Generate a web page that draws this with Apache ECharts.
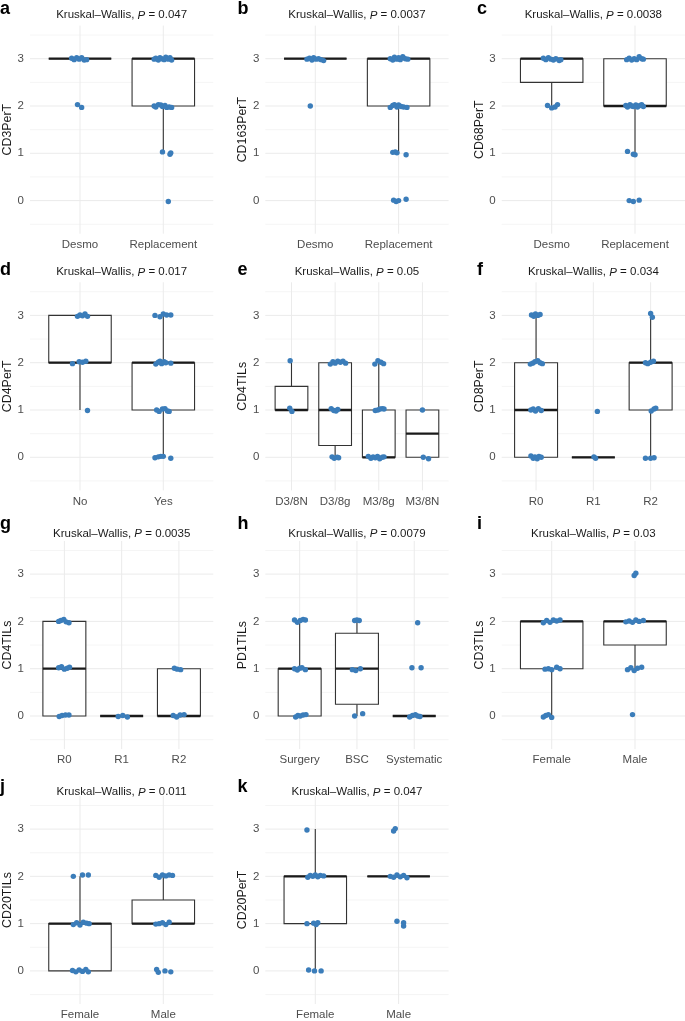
<!DOCTYPE html>
<html>
<head>
<meta charset="utf-8">
<script src="https://cdn.jsdelivr.net/npm/echarts@6/dist/echarts.min.js"></script>
<style>html,body{margin:0;padding:0;background:#fff}#c{width:685px;height:1021px}</style>
</head>
<body>
<div id="c"></div>
<script>
// ---------- data ----------
const yTicks = [0, 1, 2, 3];
const yMinor = [-0.5, 0.5, 1.5, 2.5, 3.5];

const catsA = ['Desmo', 'Replacement'];
const boxA = [[3, 3, 3, 3, 3], [1, 2, 3, 3, 3]];
const ptsA = [[0.90,3.01],[0.93,2.98],[0.96,3.02],[0.99,2.99],[1.02,3.02],[1.05,2.97],[1.08,2.98],[0.97,2.03],[1.02,1.97],
  [1.89,2.99],[1.91,3.01],[1.94,2.97],[1.96,3.02],[1.98,3.0],[2.01,2.98],[2.03,3.03],[2.06,2.99],[2.08,3.02],[2.10,2.97],
  [1.89,2.0],[1.91,1.98],[1.94,2.03],[1.97,2.02],[1.99,1.99],[2.02,2.01],[2.04,1.97],[2.07,1.98],[2.10,1.97],
  [1.99,1.03],[2.08,0.98],[2.09,1.01],[2.06,-0.02]];

const catsB = ['Desmo', 'Replacement'];
const boxB = [[3, 3, 3, 3, 3], [1, 2, 3, 3, 3]];
const ptsB = [[0.90,2.99],[0.93,3.01],[0.96,2.97],[0.98,3.02],[1.01,2.99],[1.04,3.0],[1.07,2.98],[1.10,2.96],[0.94,2.0],
  [1.90,3.0],[1.93,2.97],[1.95,3.03],[1.98,2.99],[2.0,3.02],[2.02,2.98],[2.05,3.04],[2.08,3.0],[2.11,2.99],
  [1.90,1.97],[1.93,2.01],[1.95,2.03],[1.98,1.98],[2.0,2.02],[2.03,1.99],[2.06,1.98],[2.10,1.97],
  [1.93,1.02],[1.96,1.03],[1.98,1.01],[2.09,0.97],[1.94,0.01],[1.97,-0.02],[2.0,0.0],[2.09,0.03]];

const catsC = ['Desmo', 'Replacement'];
const boxC = [[2, 2.5, 3, 3, 3], [1, 2, 2, 3, 3]];
const ptsC = [[0.90,3.01],[0.93,2.98],[0.96,3.02],[0.99,2.99],[1.02,2.97],[1.05,3.0],[1.09,2.96],[1.11,2.98],
  [0.95,2.01],[1.0,1.96],[1.04,1.98],[1.07,2.03],
  [1.90,2.98],[1.93,3.01],[1.96,2.97],[1.99,3.0],[2.02,2.98],[2.05,3.04],[2.08,3.0],[2.10,2.99],
  [1.89,2.01],[1.91,1.98],[1.94,2.03],[1.96,2.0],[1.98,1.99],[2.01,2.02],[2.03,1.98],[2.06,2.01],[2.08,2.03],[2.10,1.99],
  [1.91,1.04],[1.98,0.98],[2.0,0.97],[1.93,0.0],[1.98,-0.02],[2.05,0.01]];

const catsD = ['No', 'Yes'];
const boxD = [[1, 2, 2, 3, 3], [0, 1, 2, 2, 3]];
const ptsD = [[0.97,2.98],[1.0,3.01],[1.03,2.99],[1.06,3.03],[1.09,2.98],[0.91,1.98],[0.99,2.02],[1.03,2.01],[1.07,2.03],[1.09,0.99],
  [1.90,3.0],[1.96,2.97],[2.0,3.03],[2.04,3.01],[2.09,3.01],
  [1.91,1.97],[1.94,2.01],[1.96,2.03],[1.98,1.98],[2.01,2.02],[2.03,2.0],[2.09,1.99],
  [1.92,1.0],[1.95,0.97],[1.99,1.02],[2.02,1.03],[2.05,0.98],[2.07,0.97],
  [1.90,-0.01],[1.94,0.01],[1.97,0.02],[2.0,0.02],[2.09,-0.02]];

const catsE = ['D3/8N', 'D3/8g', 'M3/8g', 'M3/8N'];
const boxE = [[1, 1, 1, 1.5, 2], [0, 0.25, 1, 2, 2], [0, 0, 0, 1, 2], [0, 0, 0.5, 1, 1]];
const ptsE = [[0.97,2.04],[0.96,1.04],[1.01,0.97],
  [1.89,1.97],[1.95,2.02],[2.0,1.99],[2.06,2.03],[2.12,2.01],[2.18,2.03],[2.24,1.99],
  [1.91,1.03],[1.97,0.99],[2.02,0.98],[2.06,1.01],[1.93,0.01],[1.98,-0.02],[2.05,0.0],[2.08,-0.01],
  [2.91,1.97],[2.98,2.04],[3.05,2.01],[3.11,1.98],[2.92,0.99],[2.98,1.0],[3.03,1.02],[3.08,1.03],[3.12,1.02],
  [2.76,0.02],[2.82,-0.02],[2.87,0.01],[2.92,-0.01],[2.97,0.02],[3.02,-0.03],[3.08,0.0],[3.12,0.01],
  [4.0,1.0],[4.02,0.0],[4.14,-0.03]];

const catsF = ['R0', 'R1', 'R2'];
const boxF = [[0, 0, 1, 2, 3], [0, 0, 0, 0, 0], [0, 1, 2, 2, 3]];
const ptsF = [[0.92,3.01],[0.96,2.98],[0.99,3.03],[1.03,3.0],[1.07,3.02],
  [0.90,1.97],[0.94,1.99],[0.98,2.02],[1.03,2.04],[1.07,2.0],[1.11,1.98],
  [0.91,1.0],[0.95,1.02],[0.99,0.98],[1.04,1.03],[1.09,0.99],
  [0.91,0.03],[0.95,-0.02],[0.98,0.01],[1.02,-0.03],[1.05,0.02],[1.09,0.0],
  [2.07,0.97],[2.01,0.01],[2.04,-0.02],
  [3.0,3.04],[3.03,2.96],[2.91,2.0],[2.95,1.98],[3.0,2.01],[3.05,2.03],[3.01,0.98],[3.06,1.02],[3.09,1.04],
  [2.91,-0.02],[3.0,-0.02],[3.06,-0.01]];

const catsG = ['R0', 'R1', 'R2'];
const boxG = [[0, 0, 1, 2, 2], [0, 0, 0, 0, 0], [0, 0, 0, 1, 1]];
const ptsG = [[0.90,2.0],[0.94,2.02],[0.99,2.04],[1.03,1.99],[1.08,1.97],
  [0.90,1.02],[0.95,1.04],[1.0,0.99],[1.05,1.01],[1.09,1.03],
  [0.91,-0.01],[0.96,0.01],[1.02,0.02],[1.08,0.02],
  [1.94,-0.01],[2.02,0.01],[2.10,-0.02],
  [2.92,1.01],[2.97,0.99],[3.03,0.98],[2.90,0.01],[2.96,-0.02],[3.02,0.02],[3.09,0.03]];

const catsH = ['Surgery', 'BSC', 'Systematic'];
const boxH = [[0, 0, 1, 1, 2], [0, 0.25, 1, 1.75, 2], [0, 0, 0, 0, 0]];
const ptsH = [[0.91,2.03],[0.96,1.98],[1.01,2.02],[1.06,2.04],[1.10,2.03],
  [0.91,1.0],[0.96,0.97],[1.0,1.01],[1.04,1.02],[1.10,0.98],
  [0.93,-0.02],[0.97,0.01],[1.01,0.0],[1.06,0.02],[1.11,0.03],
  [1.96,2.02],[2.0,2.03],[2.04,2.02],[1.92,0.98],[1.98,0.96],[2.06,1.0],[1.96,0.0],[2.10,0.05],
  [3.06,1.97],[2.96,1.02],[3.12,1.02],[2.92,-0.02],[2.97,0.01],[3.02,0.03],[3.06,0.0],[3.10,-0.01]];

const catsI = ['Female', 'Male'];
const boxI = [[0, 1, 2, 2, 2], [1, 1.5, 2, 2, 2]];
const ptsI = [[0.90,1.97],[0.94,2.02],[0.98,1.98],[1.02,2.03],[1.06,2.01],[1.10,2.03],
  [0.92,0.99],[0.96,1.0],[1.0,0.98],[1.06,1.03],[1.10,1.0],
  [0.90,-0.02],[0.93,0.01],[0.96,0.03],[1.0,-0.03],
  [1.99,2.97],[2.01,3.02],[1.89,1.99],[1.93,2.01],[1.97,1.98],[2.01,2.03],[2.05,2.0],[2.10,2.02],
  [1.91,0.98],[1.95,1.02],[1.99,0.96],[2.03,1.01],[2.08,1.03],[1.97,0.03]];

const catsJ = ['Female', 'Male'];
const boxJ = [[0, 0, 1, 1, 2], [1, 1, 1, 1.5, 2]];
const ptsJ = [[0.92,2.0],[1.03,2.03],[1.10,2.03],
  [0.92,0.98],[0.96,1.02],[1.0,0.97],[1.04,1.03],[1.08,1.01],[1.11,1.0],
  [0.91,0.01],[0.95,-0.02],[0.99,0.02],[1.03,-0.01],[1.07,0.03],[1.10,-0.02],
  [1.91,2.02],[1.95,1.98],[1.99,2.03],[2.03,2.01],[2.07,2.03],[2.11,2.02],
  [1.91,0.99],[1.95,1.0],[1.99,1.02],[2.03,0.98],[2.07,1.03],
  [1.92,0.03],[1.94,-0.03],[2.02,0.0],[2.09,-0.02]];

const catsK = ['Female', 'Male'];
const boxK = [[0, 1, 2, 2, 3], [2, 2, 2, 2, 2]];
const ptsK = [[0.90,2.98],[0.91,1.98],[0.94,2.02],[0.97,2.0],[1.0,2.03],[1.03,1.99],[1.06,2.02],[1.10,2.01],
  [0.90,1.0],[0.98,1.01],[1.01,0.98],[1.03,1.02],[0.92,0.02],[0.99,0.0],[1.07,0.0],
  [1.94,2.96],[1.96,3.01],[1.90,2.0],[1.94,1.98],[1.98,2.03],[2.02,1.99],[2.06,2.02],[2.10,1.97],
  [1.98,1.05],[2.06,1.02],[2.06,0.95]];

const letters = ['a','b','c','d','e','f','g','h','i','j','k'];
const yNames = ['CD3PerT','CD163PerT','CD68PerT','CD4PerT','CD4TILs','CD8PerT','CD4TILs','PD1TILs','CD3TILs','CD20TILs','CD20PerT'];
const pValues = ['0.047','0.0037','0.0038','0.017','0.05','0.034','0.0035','0.0079','0.03','0.011','0.047'];
const catList = [catsA,catsB,catsC,catsD,catsE,catsF,catsG,catsH,catsI,catsJ,catsK];
const boxList = [boxA,boxB,boxC,boxD,boxE,boxF,boxG,boxH,boxI,boxJ,boxK];
const ptsList = [ptsA,ptsB,ptsC,ptsD,ptsE,ptsF,ptsG,ptsH,ptsI,ptsJ,ptsK];

// ---------- layout ----------
const FONT = '"Liberation Sans", Arial, Helvetica, sans-serif';
const colLeft = [30, 265.3, 501.7];
const colWidth = 183.3;
const rowZero = [200.6, 457.3, 716, 971];
const PPY = 47.3;
const titleY = [15.3, 272.3, 534, 792.3];
const letterY = [9.5, 270, 524, 787.5];
const letterX = [0, 237.5, 477];
const Y_MIN = -0.7, Y_MAX = 3.7;

const grids = [], xAxes = [], yAxes = [], series = [], titles = [], graphics = [];

function renderGrid(params, api) {
  const v = api.value(0), kind = api.value(1);
  const cs = params.coordSys;
  if (kind === 2) {
    const x = api.coord([v, 0])[0];
    return {type: 'line', silent: true, shape: {x1: x, y1: cs.y, x2: x, y2: cs.y + cs.height},
      style: {stroke: '#ebebeb', lineWidth: 1}};
  }
  const y = api.coord([1, v])[1];
  return {type: 'line', silent: true, shape: {x1: cs.x, y1: y, x2: cs.x + cs.width, y2: y},
    style: {stroke: kind === 0 ? '#ebebeb' : '#f3f3f3', lineWidth: kind === 0 ? 1 : 0.8}};
}

function renderBox(params, api) {
  const c = api.value(0);
  const lo = api.coord([c, api.value(1)]);
  const q1 = api.coord([c, api.value(2)]);
  const md = api.coord([c, api.value(3)]);
  const q3 = api.coord([c, api.value(4)]);
  const hi = api.coord([c, api.value(5)]);
  const hw = api.size([0.75, 0])[0] / 2;
  const x = md[0];
  const ln = {stroke: '#333333', lineWidth: 1.1};
  return {type: 'group', children: [
    {type: 'line', shape: {x1: x, y1: q1[1], x2: x, y2: lo[1]}, style: ln},
    {type: 'line', shape: {x1: x, y1: q3[1], x2: x, y2: hi[1]}, style: ln},
    {type: 'rect', shape: {x: x - hw, y: q3[1], width: 2 * hw, height: q1[1] - q3[1]},
      style: {fill: '#ffffff', stroke: '#333333', lineWidth: 1.1}},
    {type: 'line', shape: {x1: x - hw, y1: md[1], x2: x + hw, y2: md[1]},
      style: {stroke: '#1a1a1a', lineWidth: 2.3}}
  ]};
}

for (let i = 0; i < 11; i++) {
  const row = Math.floor(i / 3), col = i % 3;
  const cats = catList[i];
  const n = cats.length;
  const top = rowZero[row] - Y_MAX * PPY;
  const height = (Y_MAX - Y_MIN) * PPY;
  grids.push({left: colLeft[col], top: top, width: colWidth, height: height});
  xAxes.push({
    type: 'value', gridIndex: i, min: 0.4, max: n + 0.6,
    axisLine: {show: false}, axisTick: {show: false}, splitLine: {show: false},
    axisLabel: {customValues: cats.map((_, k) => k + 1), margin: 5,
      color: '#4d4d4d', fontSize: 11.5, fontFamily: FONT,
      formatter: v => cats[Math.round(v) - 1] || ''}
  });
  yAxes.push({
    type: 'value', gridIndex: i, min: Y_MIN, max: Y_MAX,
    name: yNames[i], nameLocation: 'middle', nameGap: 14, nameRotate: 90,
    nameTextStyle: {color: '#1a1a1a', fontSize: 12.4, fontFamily: FONT},
    axisLine: {show: false}, axisTick: {show: false}, splitLine: {show: false},
    axisLabel: {customValues: yTicks, margin: 6, color: '#4d4d4d', fontSize: 11.5, fontFamily: FONT}
  });
  const gridData = yTicks.map(v => [v, 0]).concat(yMinor.map(v => [v, 1]))
    .concat(cats.map((_, k) => [k + 1, 2]));
  series.push({type: 'custom', xAxisIndex: i, yAxisIndex: i, silent: true, z: 1,
    renderItem: renderGrid, data: gridData});
  series.push({type: 'custom', xAxisIndex: i, yAxisIndex: i, silent: true, z: 2,
    renderItem: renderBox, encode: {x: 0, y: [1, 2, 3, 4, 5]},
    data: boxList[i].map((b, k) => [k + 1].concat(b))});
  series.push({type: 'scatter', xAxisIndex: i, yAxisIndex: i, z: 3, symbol: 'circle', symbolSize: 5.4,
    itemStyle: {color: '#3b7dba', opacity: 1}, data: ptsList[i]});
  titles.push({
    text: '{n|Kruskal\u2013Wallis, }{i|P}{n| = ' + pValues[i] + '}',
    left: colLeft[col] + colWidth / 2, top: titleY[row], padding: 0,
    textAlign: 'center', textVerticalAlign: 'middle',
    textStyle: {fontWeight: 'normal', fontSize: 11.5, rich: {
      n: {fontSize: 11.5, color: '#1a1a1a', fontFamily: FONT, fontWeight: 'normal'},
      i: {fontSize: 11.5, color: '#1a1a1a', fontFamily: FONT, fontWeight: 'normal', fontStyle: 'italic'}
    }}
  });
  graphics.push({type: 'text', x: letterX[col], y: letterY[row],
    style: {text: letters[i], font: 'bold 18px ' + FONT, fill: '#000', textAlign: 'left', textVerticalAlign: 'middle'}});
}

const chart = echarts.init(document.getElementById('c'), null, {renderer: 'canvas'});
chart.setOption({
  animation: false,
  backgroundColor: '#ffffff',
  title: titles,
  grid: grids,
  xAxis: xAxes,
  yAxis: yAxes,
  series: series,
  graphic: graphics
});
</script>
</body>
</html>
